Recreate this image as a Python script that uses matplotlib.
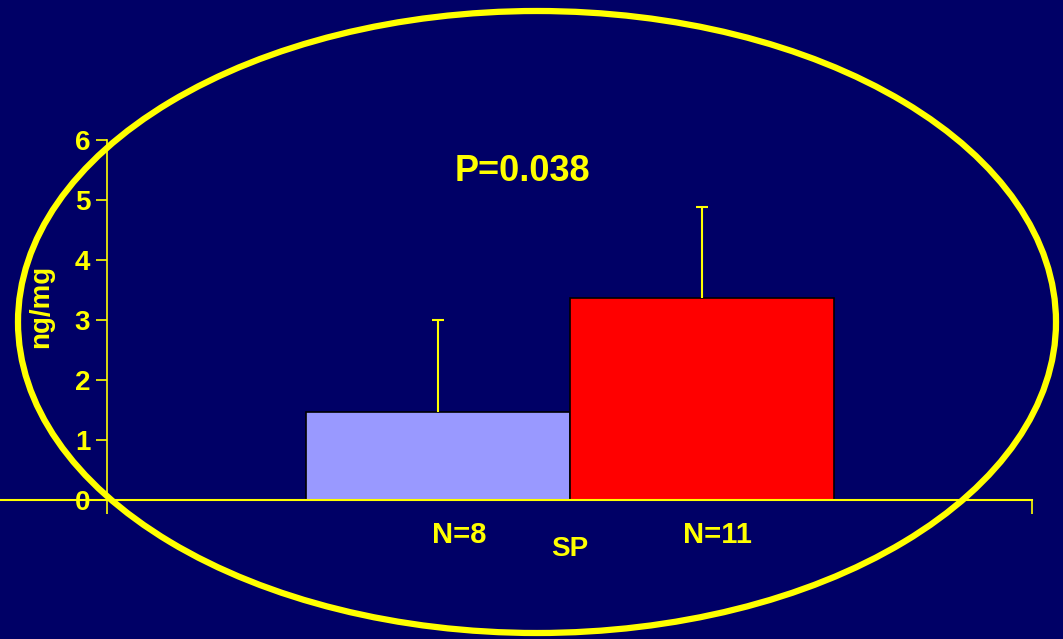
import matplotlib
matplotlib.use("Agg")
import matplotlib.pyplot as plt
from matplotlib.patches import Ellipse

# Data
groups = ["N=8", "N=11"]
means = [1.47, 3.37]
errs = [1.53, 1.51]
bar_colors = ["#9999FF", "#FF0000"]
yticks = [0, 1, 2, 3, 4, 5, 6]
p_text = "P=0.038"
xlabel = "SP"
ylabel = "ng/mg"

BG = "#000066"
YEL = "#FFFF00"

plt.rcParams["font.family"] = ["Liberation Sans", "DejaVu Sans"]
plt.rcParams["font.weight"] = "bold"

W, H = 1063, 639
fig = plt.figure(figsize=(W / 100, H / 100), dpi=100, facecolor=BG)

# axes placed in pixel terms: y-axis at x=107, zero at y=500, 6 at y=140
ax = fig.add_axes([107 / W, (H - 500) / H, 925 / W, 360 / H], facecolor=BG)

x = [0, 1]
ax.bar(x, means, width=1.0, color=bar_colors, edgecolor="black", linewidth=1.2, zorder=2)
# upper-only error bars, no cap at the bar top
tops = [m + e for m, e in zip(means, errs)]
ax.vlines(x, means, tops, color=YEL, lw=1.5, zorder=3)
ax.hlines(tops, [v - 0.023 for v in x], [v + 0.023 for v in x], color=YEL, lw=1.5, zorder=3)

ax.set_xlim(-1.254, 2.25)
ax.set_ylim(0, 6)
ax.set_yticks(yticks)
ax.tick_params(axis="y", colors=YEL, labelcolor=YEL, labelsize=20, length=8,
               width=1.2, pad=4)
for lab in ax.get_yticklabels():
    lab.set_fontweight("bold")
ax.set_xticks([-1.254, 2.25])
ax.set_xticklabels(["", ""])
ax.tick_params(axis="x", colors=YEL, length=10, width=1.2, direction="out")

for s in ["top", "right", "bottom"]:
    ax.spines[s].set_visible(False)
ax.spines["left"].set_color(YEL)
ax.spines["left"].set_linewidth(1.2)

# zero line running out to the left edge of the figure
ax.plot([-107 / 925, 1], [0, 0], transform=ax.get_yaxis_transform(),
        color=YEL, lw=1.5, clip_on=False, zorder=4)

# group labels under the bars
ax.text(x[0] + 0.08, -0.58, groups[0], color=YEL, fontsize=21, fontweight="bold",
        ha="center", va="center")
ax.text(x[1] + 0.06, -0.58, groups[1], color=YEL, fontsize=21, fontweight="bold",
        ha="center", va="center")
ax.text(0.5, -0.82, xlabel, color=YEL, fontsize=20, fontweight="bold",
        ha="center", va="center")
ax.set_ylabel(ylabel, color=YEL, fontsize=20, fontweight="bold")
ax.yaxis.set_label_coords(-0.057, 0.539)

ax.text(0.32, 5.47, p_text, color=YEL, fontsize=26, fontweight="bold",
        ha="center", va="center")

# overlay for the yellow ellipse
over = fig.add_axes([0, 0, 1, 1], facecolor="none")
over.set_xlim(0, W)
over.set_ylim(H, 0)
over.axis("off")
over.add_patch(Ellipse((537, 322), 1038, 622, fill=False, edgecolor=YEL, lw=4.5))

fig.savefig("out.png", dpi=100, facecolor=BG)
